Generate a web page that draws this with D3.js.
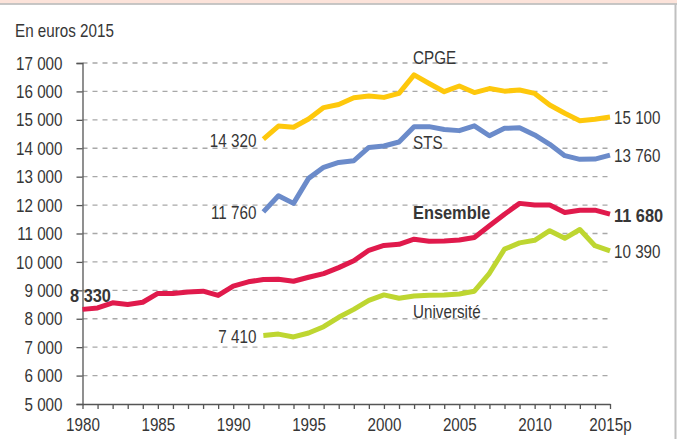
<!DOCTYPE html>
<html>
<head>
<meta charset="utf-8">
<script src="https://cdn.jsdelivr.net/npm/d3@7"></script>
<style>
  html, body { margin: 0; padding: 0; background: #fff; }
  svg { display: block; }
  text { font-family: "Liberation Sans", Arial, sans-serif; fill: #363636; }
</style>
</head>
<body>
<svg id="chart" width="677" height="439"></svg>
<script>
const years = d3.range(1980, 2016);
const yearsSub = d3.range(1992, 2016);
const xTickYears = [1980, 1985, 1990, 1995, 2000, 2005, 2010, 2015];
const xTickLabels = ["1980", "1985", "1990", "1995", "2000", "2005", "2010", "2015p"];
const yTicks = [5000, 6000, 7000, 8000, 9000, 10000, 11000, 12000, 13000, 14000, 15000, 16000, 17000];

const ensemble = [8330, 8380, 8560, 8500, 8580, 8890, 8890, 8940, 8970, 8820, 9150, 9300, 9380, 9390, 9320, 9460, 9590, 9800, 10040, 10410, 10580, 10620, 10800, 10730, 10740, 10770, 10860, 11270, 11680, 12060, 12000, 12000, 11740, 11820, 11820, 11680];
const universite = [7410, 7460, 7360, 7500, 7720, 8050, 8330, 8650, 8840, 8720, 8800, 8830, 8840, 8870, 8970, 9600, 10450, 10670, 10760, 11100, 10830, 11140, 10570, 10390];
const cpge = [14320, 14780, 14740, 15030, 15430, 15540, 15780, 15840, 15790, 15930, 16580, 16280, 15990, 16190, 15960, 16100, 16010, 16050, 15930, 15520, 15230, 14970, 15020, 15100];
const sts = [11760, 12330, 12060, 12940, 13330, 13500, 13560, 14030, 14080, 14220, 14760, 14760, 14660, 14620, 14790, 14440, 14700, 14720, 14470, 14140, 13740, 13610, 13620, 13760];

const series = [
  { name: "CPGE", years: yearsSub, values: cpge, color: "#fec80c", startLabel: "14 320", endLabel: "15 100", bold: false },
  { name: "STS", years: yearsSub, values: sts, color: "#6b8bca", startLabel: "11 760", endLabel: "13 760", bold: false },
  { name: "Université", years: yearsSub, values: universite, color: "#bed631", startLabel: "7 410", endLabel: "10 390", bold: false },
  { name: "Ensemble", years: years, values: ensemble, color: "#e01a4c", startLabel: "8 330", endLabel: "11 680", bold: true }
];

const svg = d3.select("#chart");
const W = 677, H = 439;
const FS = 19;

// frame
svg.append("rect").attr("x", 0).attr("y", 0).attr("width", W).attr("height", H).attr("fill", "#fff");
svg.append("rect").attr("x", 0).attr("y", 0).attr("width", W).attr("height", 3.5).attr("fill", "#fce3da");
svg.append("line").attr("x1", 0).attr("x2", W).attr("y1", 4).attr("y2", 4).attr("stroke", "#b5b5b5").attr("stroke-width", 1.5);
svg.append("line").attr("x1", 675.5).attr("x2", 675.5).attr("y1", 4).attr("y2", H).attr("stroke", "#c0c0c0").attr("stroke-width", 2);

const x = d3.scaleLinear().domain([1980, 2015]).range([82.5, 610]);
const y = d3.scaleLinear().domain([5000, 17000]).range([404, 63]);

// gridlines
svg.append("g").selectAll("line").data(yTicks.filter(d => d > 5000)).join("line")
  .attr("x1", x(1980)).attr("x2", x(2015))
  .attr("y1", d => y(d)).attr("y2", d => y(d))
  .attr("stroke", "#a8a8a8").attr("stroke-width", 1.3).attr("stroke-dasharray", "5,5");

// y axis
const yAxis = d3.axisLeft(y).tickValues(yTicks).tickSize(6).tickPadding(14)
  .tickFormat(d => d3.format(",")(d).replace(",", " "));
const gy = svg.append("g").attr("transform", `translate(${x(1980)},0)`).call(yAxis);
gy.select(".domain").attr("stroke", "#555").attr("stroke-width", 1.3);
gy.selectAll(".tick line").attr("stroke", "#555").attr("stroke-width", 1.3);
gy.selectAll(".tick text").attr("font-size", FS).attr("fill", "#363636");

// x axis
const xAxis = d3.axisBottom(x).tickValues(years).tickSize(5).tickSizeOuter(0)
  .tickFormat(d => { const i = xTickYears.indexOf(d); return i >= 0 ? xTickLabels[i] : ""; });
const gx = svg.append("g").attr("transform", `translate(0,${y(5000)})`).call(xAxis);
gx.select(".domain").attr("stroke", "#555").attr("stroke-width", 1.3);
gx.selectAll(".tick line").attr("stroke", "#555").attr("stroke-width", 1.3);
gx.selectAll(".tick text").attr("font-size", FS).attr("fill", "#363636").attr("dy", "0.98em");

// unit label
svg.append("text").attr("x", 15).attr("y", 36.5).attr("font-size", FS).text("En euros 2015");

// lines
const line = d3.line().x(d => x(d[0])).y(d => y(d[1]));
series.forEach(s => {
  svg.append("path")
    .datum(s.years.map((yr, i) => [yr, s.values[i]]))
    .attr("d", line)
    .attr("fill", "none")
    .attr("stroke", s.color)
    .attr("stroke-width", 5)
    .attr("stroke-linejoin", "round");
});

// start & end labels
series.forEach(s => {
  const v0 = s.values[0], vN = s.values[s.values.length - 1];
  const t0 = svg.append("text").attr("font-size", FS)
    .attr("font-weight", s.bold ? "bold" : "normal").attr("fill", s.bold ? "#1e1e1e" : "#363636").text(s.startLabel);
  if (s.name === "Ensemble") {
    t0.attr("x", 70).attr("y", y(v0) - 7.5).attr("text-anchor", "start");
  } else {
    t0.attr("x", x(s.years[0]) - 7).attr("y", y(v0) + 7.5).attr("text-anchor", "end");
  }
  svg.append("text").attr("font-size", FS)
    .attr("font-weight", s.bold ? "bold" : "normal").attr("fill", s.bold ? "#1e1e1e" : "#363636")
    .attr("x", x(2015) + 4).attr("y", y(vN) + 7.4).text(s.endLabel);
});

// series names
const nameLabels = [
  { text: "CPGE", year: 2002, value: 16955, bold: false },
  { text: "STS", year: 2002, value: 13960, bold: false },
  { text: "Ensemble", year: 2002, value: 11515, bold: true },
  { text: "Université", year: 2002, value: 8030, bold: false }
];
svg.append("g").selectAll("text").data(nameLabels).join("text")
  .attr("x", d => x(d.year) - 1).attr("y", d => y(d.value))
  .attr("font-size", FS)
  .attr("font-weight", d => d.bold ? "bold" : "normal")
  .attr("fill", d => d.bold ? "#1e1e1e" : "#363636")
  .text(d => d.text);

// condense all text horizontally (reference uses a condensed face)
svg.selectAll("text").each(function () {
  const w = this.getComputedTextLength();
  if (w > 0) {
    const bold = this.getAttribute("font-weight") === "bold";
    this.setAttribute("textLength", w * (bold ? 0.86 : 0.8));
    this.setAttribute("lengthAdjust", "spacingAndGlyphs");
  }
});
</script>
</body>
</html>
